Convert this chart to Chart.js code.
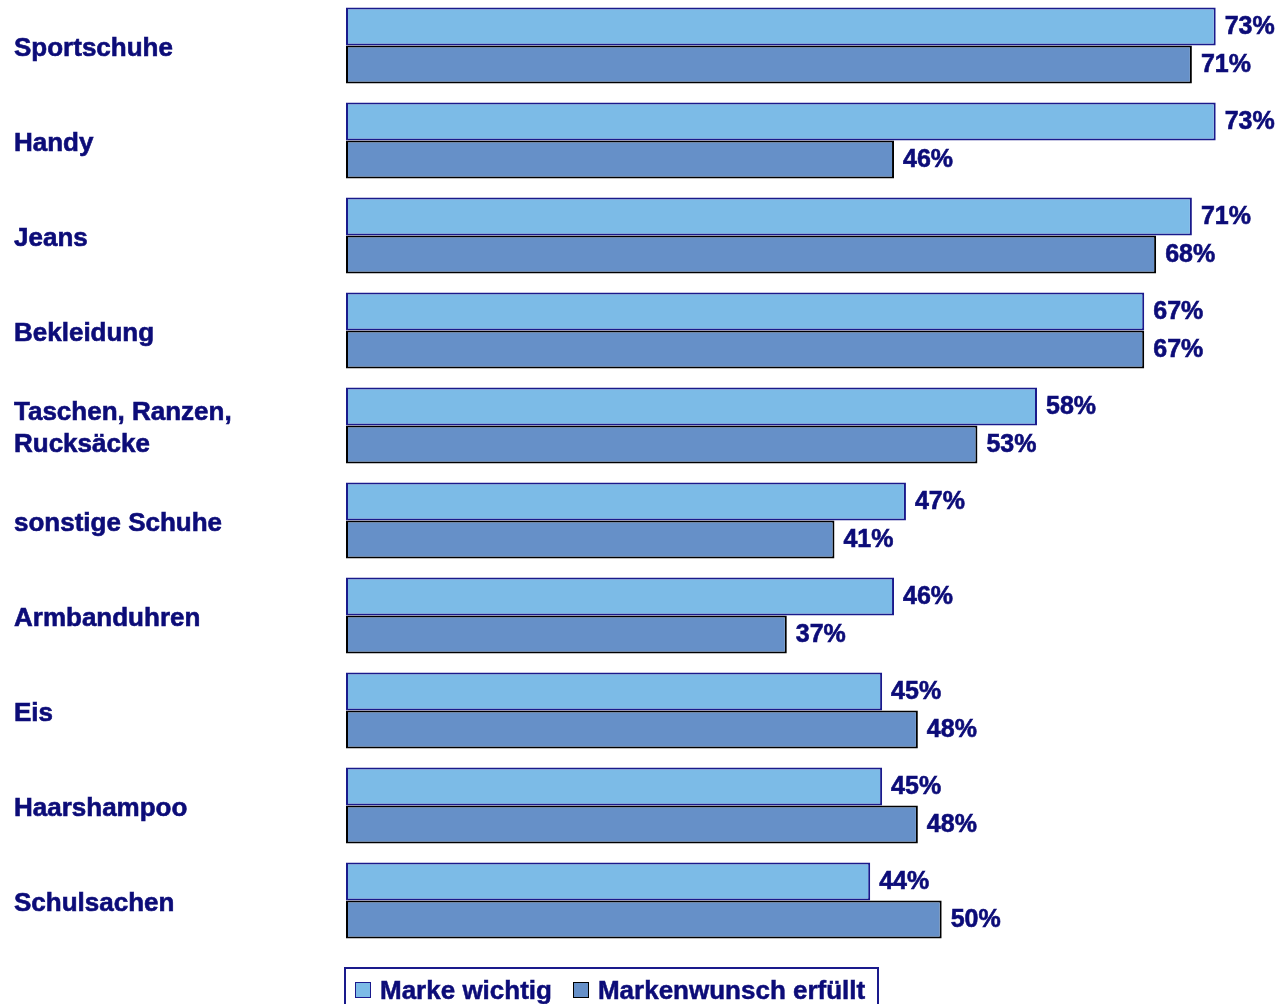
<!DOCTYPE html>
<html lang="de">
<head>
<meta charset="utf-8">
<title>Marke wichtig / Markenwunsch erfüllt</title>
<script src="https://cdn.jsdelivr.net/npm/chart.js@4/dist/chart.umd.min.js"></script>
<style>
  html, body { margin: 0; padding: 0; background: #fff; overflow: hidden; }
  #wrap { position: relative; width: 1286px; height: 1004px; overflow: hidden; }
  #chart { position: absolute; left: 0; top: -2px; }
  #legend {
    position: absolute; left: 344px; top: 967px;
    border: 2px solid #1a1a8c; border-bottom: none;
    padding: 6px 12px 14px 9px; white-space: nowrap;
    font: bold 26px "Liberation Sans", Arial, sans-serif; color: #0c0c78;
    -webkit-text-stroke: 0.5px #0c0c78;
  }
  #legend span.item { display: inline-block; margin-right: 21px; }
  #legend span.item:last-child { margin-right: 0; }
  #legend i {
    display: inline-block; width: 14px; height: 14px; margin-right: 9px;
    vertical-align: 1px; border: 1px solid;
  }
</style>
</head>
<body>
<div id="wrap">
  <canvas id="chart" width="1286" height="1006"></canvas>
  <div id="legend"></div>
</div>
<script>
const categories = [
  'Sportschuhe',
  'Handy',
  'Jeans',
  'Bekleidung',
  ['Taschen, Ranzen,', 'Rucksäcke'],
  'sonstige Schuhe',
  'Armbanduhren',
  'Eis',
  'Haarshampoo',
  'Schulsachen'
];
const markeWichtig = [73, 73, 71, 67, 58, 47, 46, 45, 45, 44];
const wunschErfuellt = [71, 46, 68, 67, 53, 41, 37, 48, 48, 50];
const seriesNames = ['Marke wichtig', 'Markenwunsch erfüllt'];

const navy = '#0c0c78';
const fontFamily = '"Liberation Sans", Arial, sans-serif';

// percentage labels right of each bar
const valueLabels = {
  id: 'valueLabels',
  afterDatasetsDraw(chart) {
    const ctx = chart.ctx;
    ctx.save();
    ctx.font = 'bold 25px ' + fontFamily;
    ctx.fillStyle = navy;
    ctx.strokeStyle = navy;
    ctx.lineWidth = 0.6;
    ctx.textAlign = 'left';
    ctx.textBaseline = 'middle';
    chart.data.datasets.forEach(function (ds, i) {
      chart.getDatasetMeta(i).data.forEach(function (bar, j) {
        const txt = ds.data[j] + '%';
        ctx.fillText(txt, bar.x + 9, bar.y + 1);
        ctx.strokeText(txt, bar.x + 9, bar.y + 1);
      });
    });
    ctx.restore();
  }
};

const chart = new Chart(document.getElementById('chart'), {
  type: 'bar',
  data: {
    labels: categories,
    datasets: [{
      label: seriesNames[0],
      data: markeWichtig,
      backgroundColor: '#7cbbe7',
      borderColor: '#1a1a8c',
      borderWidth: 2,
      borderSkipped: false
    }, {
      label: seriesNames[1],
      data: wunschErfuellt,
      backgroundColor: '#6690c8',
      borderColor: '#000000',
      borderWidth: 2,
      borderSkipped: false
    }]
  },
  options: {
    indexAxis: 'y',
    responsive: false,
    animation: false,
    layout: { padding: { left: 14, right: 0, top: 0, bottom: 56 } },
    datasets: { bar: { categoryPercentage: 0.8, barPercentage: 1.0 } },
    plugins: {
      legend: { display: false },
      tooltip: { enabled: false }
    },
    scales: {
      x: { display: false, min: 0, max: 78.9 },
      y: {
        grid: { display: false },
        border: { display: false },
        afterFit: function (axis) {
          axis.width = 332;
          // no extra room above/below for the tick labels
          axis.paddingTop = 0;
          axis.paddingBottom = 0;
        },
        ticks: {
          crossAlign: 'far',
          labelOffset: 3,
          color: navy,
          textStrokeColor: navy,
          textStrokeWidth: 0.6,
          font: { family: fontFamily, size: 26, weight: 'bold', lineHeight: 1.22 }
        }
      }
    }
  },
  plugins: [valueLabels]
});

// legend box below the plot
const legend = document.getElementById('legend');
chart.data.datasets.forEach(function (ds) {
  const item = document.createElement('span');
  item.className = 'item';
  const sw = document.createElement('i');
  sw.style.background = ds.backgroundColor;
  sw.style.borderColor = ds.borderColor;
  item.appendChild(sw);
  item.appendChild(document.createTextNode(ds.label));
  legend.appendChild(item);
});
</script>
</body>
</html>
